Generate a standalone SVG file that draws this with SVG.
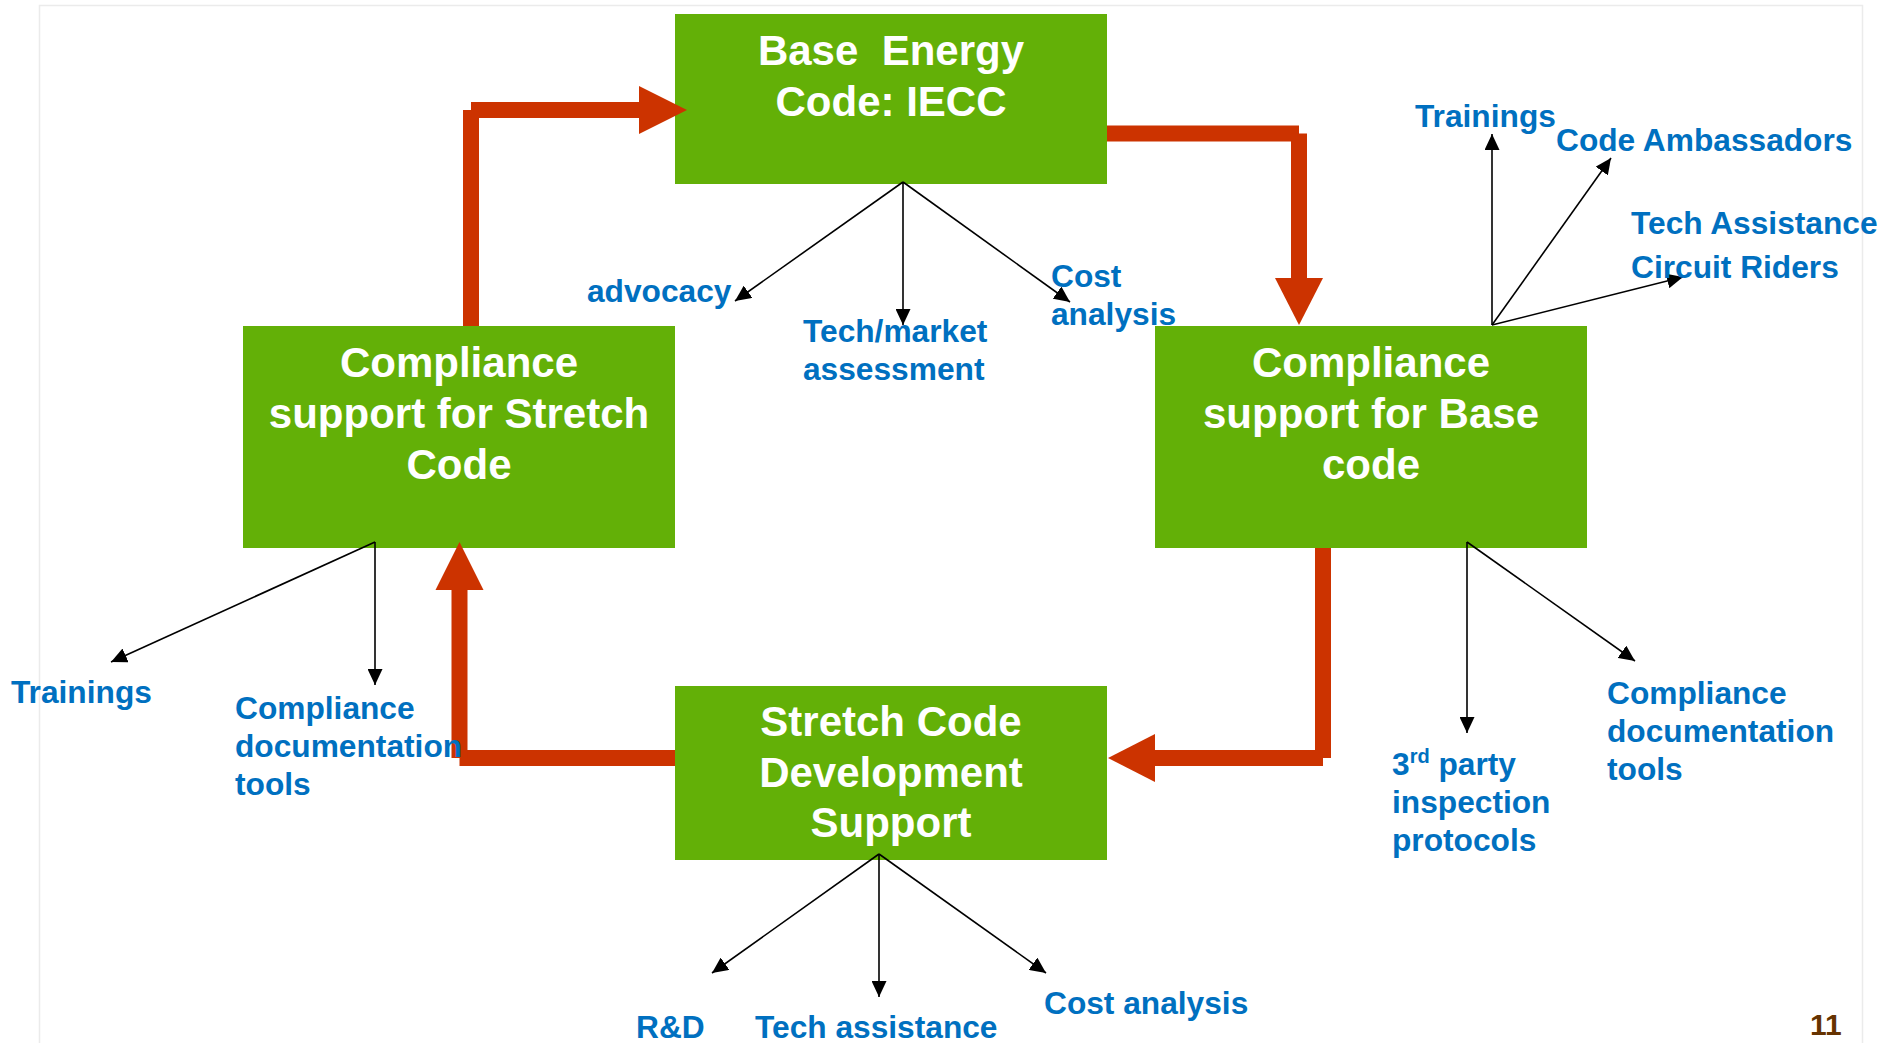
<svg xmlns="http://www.w3.org/2000/svg" width="1895" height="1043" viewBox="0 0 1895 1043">
<style>
.box{fill:#63B007;}
.bt{font-family:"Liberation Sans",Arial,sans-serif;font-weight:bold;font-size:42px;fill:#FFFFFF;text-anchor:middle;}
.lb{font-family:"Liberation Sans",Arial,sans-serif;font-weight:bold;font-size:31.7px;fill:#0070C0;}
.red{stroke:#CC3300;stroke-width:16;fill:none;}
.redh{fill:#CC3300;}
.thin{stroke:#000000;stroke-width:1.6;fill:none;marker-end:url(#ah);}
</style>
<defs>
<marker id="ah" markerUnits="userSpaceOnUse" markerWidth="17" markerHeight="15" refX="16" refY="7.5" orient="auto">
<path d="M0,0 L16,7.5 L0,15 z" fill="#000000"/>
</marker>
</defs>
<rect x="0" y="0" width="1895" height="1043" fill="#FFFFFF"/>
<rect x="39.5" y="5.5" width="1823" height="1060" fill="none" stroke="#EBEBEB" stroke-width="1.5"/>

<g id="node-base-energy">
<rect class="box" x="675" y="14" width="432" height="170"/>
<text class="bt" x="891" y="65" style="white-space:pre">Base  Energy</text>
<text class="bt" x="891" y="116">Code: IECC</text>
</g>

<g id="node-compliance-stretch">
<rect class="box" x="243" y="326" width="432" height="222"/>
<text class="bt" x="459" y="377">Compliance</text>
<text class="bt" x="459" y="428">support for Stretch</text>
<text class="bt" x="459" y="479">Code</text>
</g>

<g id="node-compliance-base">
<rect class="box" x="1155" y="326" width="432" height="222"/>
<text class="bt" x="1371" y="377">Compliance</text>
<text class="bt" x="1371" y="428">support for Base</text>
<text class="bt" x="1371" y="479">code</text>
</g>

<g id="node-stretch-dev">
<rect class="box" x="675" y="686" width="432" height="174"/>
<text class="bt" x="891" y="736">Stretch Code</text>
<text class="bt" x="891" y="787">Development</text>
<text class="bt" x="891" y="837">Support</text>
</g>

<g id="connectors">
<line class="red" x1="471" y1="110" x2="471" y2="326"/>
<line class="red" x1="471" y1="110" x2="640" y2="110"/>
<polygon class="redh" points="639,86 687,110 639,134"/>

<line class="red" x1="1107" y1="133.5" x2="1299" y2="133.5"/>
<line class="red" x1="1299" y1="133.5" x2="1299" y2="279"/>
<polygon class="redh" points="1275,278 1323,278 1299,325"/>

<line class="red" x1="1323" y1="548" x2="1323" y2="758"/>
<line class="red" x1="1323" y1="758" x2="1154" y2="758"/>
<polygon class="redh" points="1155,734 1108,758 1155,782"/>

<line class="red" x1="675" y1="758" x2="459.5" y2="758"/>
<line class="red" x1="459.5" y1="758" x2="459.5" y2="589"/>
<polygon class="redh" points="435.5,590 483.5,590 459.5,542"/>

<line class="thin" x1="903" y1="182" x2="735" y2="301"/>
<line class="thin" x1="903" y1="182" x2="903" y2="325"/>
<line class="thin" x1="903" y1="182" x2="1070" y2="302"/>

<line class="thin" x1="1492" y1="325" x2="1492" y2="134"/>
<line class="thin" x1="1492" y1="325" x2="1611" y2="158"/>
<line class="thin" x1="1492" y1="325" x2="1683" y2="277"/>

<line class="thin" x1="375" y1="542" x2="111" y2="662"/>
<line class="thin" x1="375" y1="542" x2="375" y2="685"/>

<line class="thin" x1="1467" y1="542" x2="1467" y2="733"/>
<line class="thin" x1="1467" y1="542" x2="1635" y2="661"/>

<line class="thin" x1="879" y1="854" x2="712" y2="973"/>
<line class="thin" x1="879" y1="854" x2="879" y2="997"/>
<line class="thin" x1="879" y1="854" x2="1046" y2="973"/>
</g>

<g id="labels">
<text class="lb" x="587" y="302">advocacy</text>
<text class="lb" x="803" y="342">Tech/market</text>
<text class="lb" x="803" y="380">assessment</text>
<text class="lb" x="1051" y="287">Cost</text>
<text class="lb" x="1051" y="325">analysis</text>

<text class="lb" x="1415" y="127">Trainings</text>
<text class="lb" x="1556" y="151">Code Ambassadors</text>
<text class="lb" x="1631" y="234">Tech Assistance</text>
<text class="lb" x="1631" y="278">Circuit Riders</text>

<text class="lb" x="11" y="703">Trainings</text>
<text class="lb" x="235" y="719">Compliance</text>
<text class="lb" x="235" y="757">documentation</text>
<text class="lb" x="235" y="795">tools</text>

<text class="lb" x="1392" y="775">3<tspan font-size="20" dy="-12">rd</tspan><tspan dy="12"> party</tspan></text>
<text class="lb" x="1392" y="813">inspection</text>
<text class="lb" x="1392" y="851">protocols</text>

<text class="lb" x="1607" y="704">Compliance</text>
<text class="lb" x="1607" y="742">documentation</text>
<text class="lb" x="1607" y="780">tools</text>

<text class="lb" x="636" y="1038">R&amp;D</text>
<text class="lb" x="755" y="1038">Tech assistance</text>
<text class="lb" x="1044" y="1014">Cost analysis</text>

<text x="1810" y="1035" font-family="Liberation Sans,Arial,sans-serif" font-weight="bold" font-size="30" fill="#663300">11</text>
</g>
</svg>
